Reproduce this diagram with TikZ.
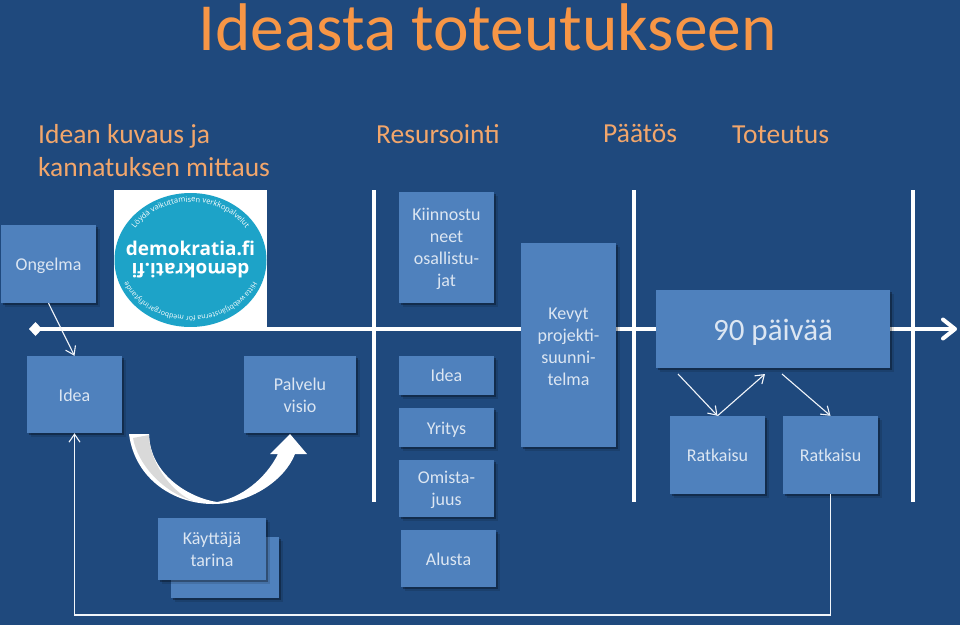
\documentclass[tikz,border=0pt]{standalone}
\usepackage{fontspec}
\setmainfont{Carlito}
\newfontfamily\logofont{Open Sans}
\usetikzlibrary{arrows.meta,shadows,decorations.text}
\definecolor{bgblue}{HTML}{1F497D}
\definecolor{boxblue}{HTML}{4F81BD}
\definecolor{paletext}{HTML}{DCE6F2}
\definecolor{orangetext}{HTML}{F79646}
\definecolor{headtext}{HTML}{F2A66B}
\definecolor{logoblue}{HTML}{1DA3C8}
\tikzset{
  boxnode/.style={fill=boxblue,text=paletext,align=center,inner sep=0pt,font=\fontsize{18}{22}\selectfont,
    general shadow={shadow xshift=3.5pt,shadow yshift=-3.5pt,fill=black,opacity=.12},
    general shadow={shadow xshift=2pt,shadow yshift=-2pt,fill=black,opacity=.3}},
  heading/.style={text=headtext,anchor=base west,inner sep=0pt,align=left,font=\fontsize{27.5}{33}\selectfont},
  thinarrow/.style={draw=white!92!boxblue,line width=1.1pt,-{Straight Barb[length=8pt,width=11pt,line width=1.1pt]}},
  barline/.style={draw=white,line width=4pt},
  logotext/.style={text=white,font=\logofont\bfseries\fontsize{19}{19}\selectfont,inner sep=0pt},
  arctexta/.style={decorate,decoration={text along path,text align=center,
    text={|\logofont\fontsize{7.6}{9}\selectfont\color{white}|#1}}},
  arctextb/.style={decorate,decoration={text along path,text align=center,
    text={|\logofont\fontsize{7}{9}\selectfont\color{white}|#1}}}
}
\newcommand{\dn}[1]{\rule{0pt}{#1pt}}
\newcommand{\bx}[6]{\node[boxnode,minimum width={(#4-#2)*1pt},minimum height={(#5-#3)*1pt}] (#1) at ({(#2+#4)/2},{(#3+#5)/2}) {#6};}
\begin{document}
\begin{tikzpicture}[x=1pt,y=-1pt]
\useasboundingbox (0,0) rectangle (960,625);
\fill[bgblue] (0,0) rectangle (960,625);

\node[text=orangetext,inner sep=0pt,anchor=base,font=\fontsize{67.4}{67}\selectfont] (title) at (487.5,50) {Ideasta toteutukseen};
\node[heading] (h1) at (38,176) {Idean kuvaus ja\\kannatuksen mittaus};
\node[heading] (h2) at (376,143) {Resursointi};
\node[heading] (h3) at (603,142) {Päätös};
\node[heading] (h4) at (732,143) {Toteutus};

% logo
\fill[white] (114,190) rectangle (267,329);
\fill[logoblue] (190.5,260) ellipse [x radius=76pt,y radius=67pt];
\node[logotext] (logoa) at (190.5,248) {demokratia.fi};
\node[logotext,rotate=180] (logob) at (190.5,271) {demokrati.fi};
\path[arctexta={Löydä vaikuttamisen verkkopalvelut}] (130.7,235.5) arc[start angle=155,end angle=25,x radius=66pt,y radius=58pt];
\path[arctextb={Hitta webbtjänsterna för medborgarinflytande}] (258.2,265) arc[start angle=-5,end angle=-175,x radius=68pt,y radius=56pt];

% lines
\coordinate (tlstart) at (29,329);
\coordinate (tlend) at (957,329);
\draw[draw=white,line width=4.7pt,{Diamond[length=13pt,width=14pt]}-{Straight Barb[length=12pt,width=19pt,line width=4pt,round]}] (tlstart) -- (tlend);
\coordinate (v1a) at (374,190); \coordinate (v1b) at (374,502);
\coordinate (v2a) at (634,190); \coordinate (v2b) at (634,502);
\coordinate (v3a) at (913,190); \coordinate (v3b) at (913,502);
\draw[barline] (v1a) -- (v1b);
\draw[barline] (v2a) -- (v2b);
\draw[barline] (v3a) -- (v3b);

% boxes
\bx{ongelma}{1}{225}{96}{303}{\dn{16}Ongelma}
\bx{idea}{27}{356}{122}{433}{\dn{14}Idea}
\bx{palvelu}{244}{356}{356}{433}{\dn{14}Palvelu\\visio}
\bx{kayttajab}{171}{537}{279}{598}{}
\bx{kayttaja}{158}{518}{266}{580}{Käyttäjä\\tarina}
\bx{kiinnostu}{399}{192}{494}{303}{\dn{16}Kiinnostu\\neet\\osallistu-\\jat}
\bx{ideab}{399}{356}{494}{395}{Idea}
\bx{yritys}{399}{408}{494}{447}{\dn{16}Yritys}
\bx{omista}{399}{460}{494}{517}{\dn{16}Omista-\\juus}
\bx{alusta}{401}{530}{496}{587}{\dn{14}Alusta}
\bx{kevyt}{521}{243}{616}{447}{\dn{16}Kevyt\\projekti-\\suunni-\\telma}
\node[boxnode,minimum width=234pt,minimum height=78pt,font=\fontsize{31}{36}\selectfont] (paivaa) at (773,329) {\dn{27}90 päivää};
\bx{ratk}{670}{416}{765}{494}{Ratkaisu}
\bx{ratkb}{783}{416}{878}{494}{Ratkaisu}

% curved arrow
\fill[white] (129,434) .. controls (135,480) and (175,504) .. (213,504)
  .. controls (250,504) and (285,480) .. (295,454) -- (307,454) -- (290,434) -- (270,454) -- (278,454)
  .. controls (265,480) and (240,498) .. (217,502)
  .. controls (190,498) and (150,475) .. (149,434) -- cycle;
\fill[gray!30] (133,438) -- (149,435) .. controls (150,468) and (177,495) .. (193,501)
  .. controls (163,492) and (138,465) .. (133,438) -- cycle;

% connectors
\coordinate (pa) at (678,374);
\coordinate (pb) at (765,374);
\coordinate (pc) at (782,374);
\draw[thinarrow] (ongelma.south) -- (idea.north);
\draw[thinarrow] (pa) -- (ratk.north);
\draw[thinarrow] (ratk.north) -- (pb);
\draw[thinarrow] (pc) -- (ratkb.north);
\coordinate (loopa) at (ratkb.south |- 0,615);
\coordinate (loopb) at (idea.south |- 0,615);
\draw[thinarrow] (ratkb.south) -- (loopa) -- (loopb) -- (idea.south);
\end{tikzpicture}
\end{document}
